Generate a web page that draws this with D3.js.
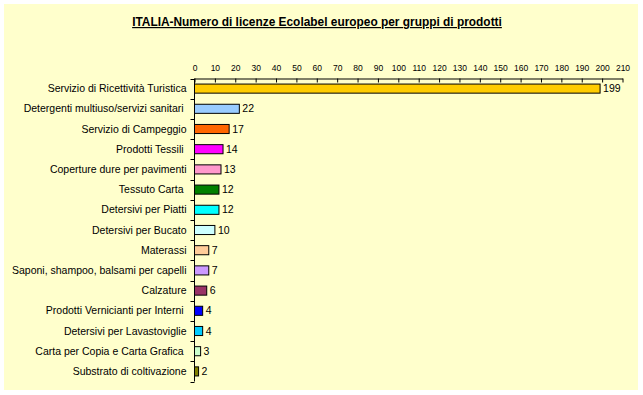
<!DOCTYPE html>
<html lang="it">
<head>
<meta charset="UTF-8">
<title>ITALIA - Licenze Ecolabel</title>
<script src="https://d3js.org/d3.v7.min.js"></script>
<style>
    body { margin: 0; background: #fff; font-family: "Liberation Sans", Arial, sans-serif; }
    svg { display: block; }
    text { white-space: pre; }
</style>
</head>
<body>
<svg width="643" height="395"></svg>
<script>
    // dati
    const categories = [
        "Servizio di Ricettività Turistica",
        "Detergenti multiuso/servizi sanitari ",
        "Servizio di Campeggio",
        "Prodotti Tessili ",
        "Coperture dure per pavimenti",
        "Tessuto Carta ",
        "Detersivi per Piatti",
        "Detersivi per Bucato",
        "Materassi",
        "Saponi, shampoo, balsami per capelli",
        "Calzature",
        "Prodotti Vernicianti per Interni ",
        "Detersivi per Lavastoviglie",
        "Carta per Copia e Carta Grafica ",
        "Substrato di coltivazione"
    ];
    const licenze = [199, 22, 17, 14, 13, 12, 12, 10, 7, 7, 6, 4, 4, 3, 2];
    const barColors = ["#FFCC00", "#99CCFF", "#FF6600", "#FF00FF", "#FF99CC", "#008000", "#00FFFF",
        "#CCFFFF", "#FFCC99", "#CC99FF", "#993366", "#0000FF", "#00CCFF", "#CCFFCC", "#808000"];
    const xTicks = d3.range(0, 211, 10);

    const svg = d3.select("svg");

    // sfondo
    svg.append("rect").attr("x", 4).attr("y", 4).attr("width", 634).attr("height", 386)
        .attr("fill", "#FFFFCC");

    svg.append("text")
        .attr("x", 317).attr("y", 26)
        .attr("text-anchor", "middle")
        .attr("font-size", "11.9px").attr("font-weight", "bold")
        .attr("text-decoration", "underline")
        .text("ITALIA-Numero di licenze Ecolabel europeo per gruppi di prodotti");

    const pLeft = 194.5, pRight = 622.5, pTop = 78.5, pBottom = 381.5;

    const x = d3.scaleLinear().domain([0, 210]).range([pLeft, pRight]);
    const y = d3.scaleBand().domain(categories).range([pTop, pBottom]).paddingInner(0.55).paddingOuter(0.275);

    // asse x in alto
    const xAxis = svg.append("g")
        .attr("transform", `translate(0,${pTop})`)
        .call(d3.axisTop(x).tickValues(xTicks).tickSizeInner(-4).tickSizeOuter(0).tickPadding(8));
    xAxis.selectAll("text").attr("font-size", "8.5px").attr("font-family", "Liberation Sans, Arial, sans-serif").attr("fill", "#000");
    xAxis.select(".domain").attr("stroke", "#000");
    xAxis.selectAll("line").attr("stroke", "#000");

    // asse y
    const yAxisG = svg.append("g").attr("transform", `translate(${pLeft},0)`);
    yAxisG.append("line").attr("x1", 0).attr("x2", 0).attr("y1", pTop).attr("y2", pBottom).attr("stroke", "#000");
    const step = y.step();
    yAxisG.selectAll("line.tk")
        .data(d3.range(categories.length + 1))
        .enter().append("line")
        .attr("class", "tk")
        .attr("x1", -4).attr("x2", 0)
        .attr("y1", i => Math.round(pTop + i * step) + 0.5)
        .attr("y2", i => Math.round(pTop + i * step) + 0.5)
        .attr("stroke", "#000");

    yAxisG.selectAll("text.cat")
        .data(categories)
        .enter().append("text")
        .attr("class", "cat")
        .attr("x", -8)
        .attr("y", d => y(d) + y.bandwidth() / 2)
        .attr("dy", "0.35em")
        .attr("text-anchor", "end")
        .attr("font-size", "10.5px")
        .text(d => d);

    // barre
    svg.selectAll("rect.bar")
        .data(licenze)
        .enter().append("rect")
        .attr("class", "bar")
        .attr("x", x(0))
        .attr("y", (d, i) => y(categories[i]))
        .attr("width", d => x(d) - x(0))
        .attr("height", y.bandwidth())
        .attr("fill", (d, i) => barColors[i])
        .attr("stroke", "#000")
        .attr("stroke-width", 1);

    svg.selectAll("text.val")
        .data(licenze)
        .enter().append("text")
        .attr("class", "val")
        .attr("x", d => x(d) + 3)
        .attr("y", (d, i) => y(categories[i]) + y.bandwidth() / 2)
        .attr("dy", "0.35em")
        .attr("font-size", "10.5px")
        .text(d => d);
</script>
</body>
</html>
